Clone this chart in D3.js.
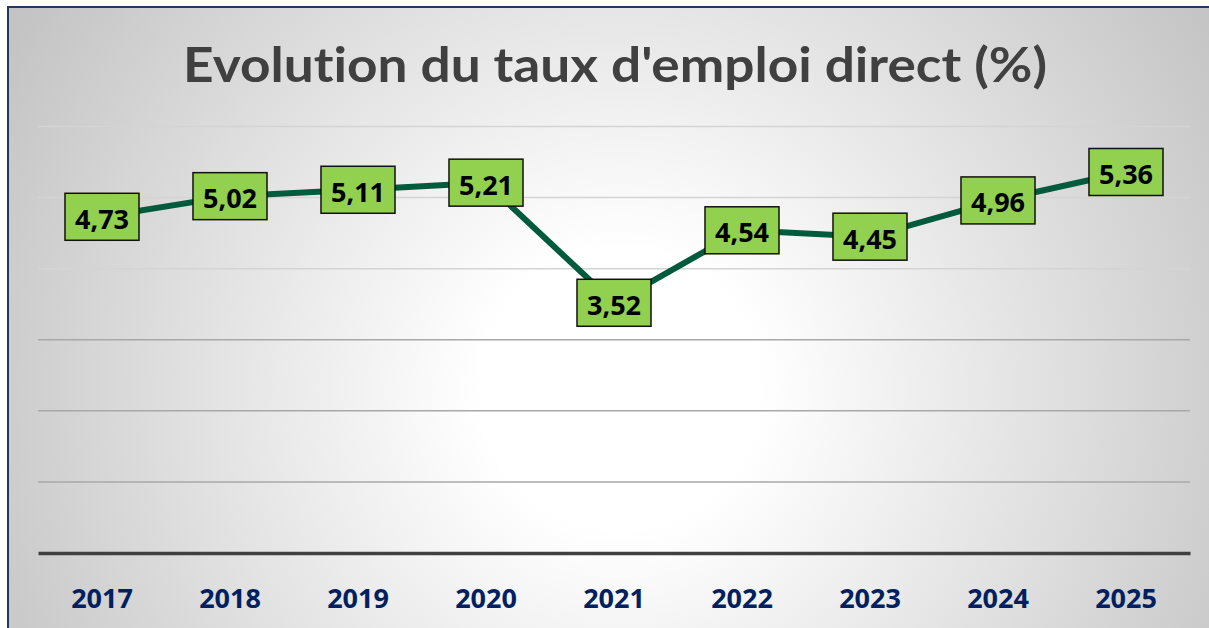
<!DOCTYPE html>
<html>
<head>
<meta charset="utf-8">
<script src="https://cdn.jsdelivr.net/npm/d3@7"></script>
<style>
  body { margin: 0; background: #fff; }
  svg { display: block; }
</style>
</head>
<body>
<div class="chart-container"></div>
<script>
// data
const years = ["2017", "2018", "2019", "2020", "2021", "2022", "2023", "2024", "2025"];
const rates = [4.73, 5.02, 5.11, 5.21, 3.52, 4.54, 4.45, 4.96, 5.36];
const yTicks = [0, 1, 2, 3, 4, 5, 6];
const title = "Evolution du taux d'emploi direct (%)";

const width = 1209, height = 628;

const svg = d3.select('.chart-container')
  .append('svg')
  .attr('width', width)
  .attr('height', height);

// radial background like the office chart area
const grad = svg.append('defs').append('radialGradient')
  .attr('id', 'bg')
  .attr('gradientUnits', 'userSpaceOnUse')
  .attr('cx', 620).attr('cy', 390).attr('r', 700);
grad.append('stop').attr('offset', '0.2').attr('stop-color', '#ffffff');
grad.append('stop').attr('offset', '1').attr('stop-color', '#c4c4c4');

svg.append('rect')
  .attr('x', 8).attr('y', 7)
  .attr('width', width + 20).attr('height', height + 20)
  .attr('fill', 'url(#bg)')
  .attr('stroke', '#1f3864')
  .attr('stroke-width', 2);

const xScale = d3.scaleBand()
  .domain(years)
  .range([38, 1190]);

const yScale = d3.scaleLinear()
  .domain([0, 6])
  .range([553, 126.5]);

// gridlines
svg.append('g')
  .selectAll('line')
  .data(yTicks.filter(d => d > 0))
  .join('line')
  .attr('x1', 38).attr('x2', 1190)
  .attr('y1', d => yScale(d)).attr('y2', d => yScale(d))
  .attr('stroke', d => d > 3 ? '#d4d4d4' : '#a8a8a8')
  .attr('stroke-width', 1.5);

// x axis
const xAxis = d3.axisBottom(xScale).tickSize(0).tickPadding(0);
const gx = svg.append('g')
  .attr('transform', 'translate(0,' + yScale(0) + ')')
  .call(xAxis);
gx.select('.domain')
  .attr('stroke', '#404040')
  .attr('stroke-width', 3.5);
gx.selectAll('.tick text')
  .attr('dy', null)
  .attr('y', 55)
  .attr('fill', '#002060')
  .style('font-family', '"Open Sans", sans-serif')
  .style('font-weight', 700)
  .style('font-size', '27px');

// title
svg.append('text')
  .attr('x', 615)
  .attr('y', 82)
  .attr('text-anchor', 'middle')
  .attr('fill', '#404040')
  .attr('textLength', 864)
  .attr('lengthAdjust', 'spacingAndGlyphs')
  .style('font-family', 'Lato, sans-serif')
  .style('font-weight', 700)
  .style('font-size', '47px')
  .style('font-variant-ligatures', 'none')
  .style('font-feature-settings', '"liga" 0')
  .text(title);

const points = years.map((y, i) => ({year: y, value: rates[i]}));
const cx = d => xScale(d.year) + xScale.bandwidth() / 2;

const line = d3.line()
  .x(cx)
  .y(d => yScale(d.value));

svg.append('path')
  .datum(points)
  .attr('fill', 'none')
  .attr('stroke', '#005a3c')
  .attr('stroke-width', 6)
  .attr('stroke-linejoin', 'round')
  .attr('d', line);

// value labels
const labels = svg.append('g')
  .selectAll('g')
  .data(points)
  .join('g')
  .attr('transform', d => 'translate(' + cx(d) + ',' + yScale(d.value) + ')');

labels.append('rect')
  .attr('x', -37).attr('y', -23.5)
  .attr('width', 74).attr('height', 47)
  .attr('fill', '#92d050')
  .attr('stroke', '#111')
  .attr('stroke-width', 1.5);

labels.append('text')
  .attr('text-anchor', 'middle')
  .attr('y', 12)
  .attr('fill', '#000')
  .style('font-family', '"Open Sans", sans-serif')
  .style('font-weight', 700)
  .style('font-size', '27px')
  .text(d => d3.format('.2f')(d.value).replace('.', ','));
</script>
</body>
</html>
